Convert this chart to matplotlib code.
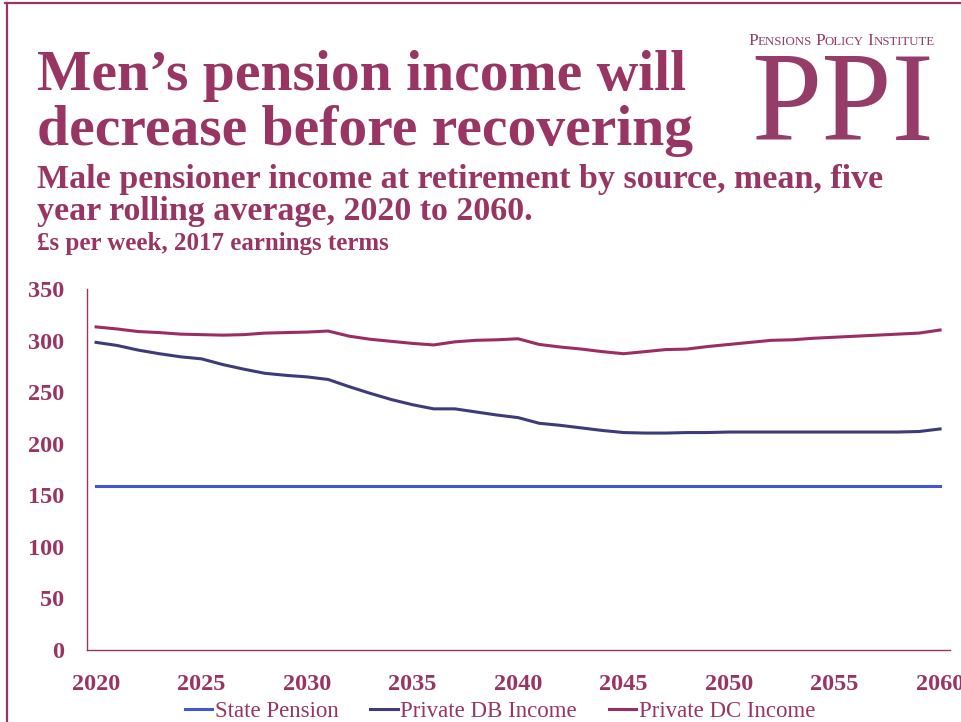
import matplotlib
matplotlib.use("Agg")
import matplotlib.pyplot as plt
from matplotlib.lines import Line2D

# Data (GBP per week, 2017 earnings terms)
years = list(range(2020, 2061))

state_pension = [159] * 41

private_db = [298.5, 295.5, 291, 287.5, 284.5, 282.5, 277, 272.5, 268.5, 266.5,
              265, 262.5, 255.5, 249, 243, 238, 234, 234, 231, 228,
              225.5, 220, 218, 215.5, 213, 211, 210.5, 210.5, 211, 211,
              211.5, 211.5, 211.5, 211.5, 211.5, 211.5, 211.5, 211.5, 211.5, 212,
              214.5]

private_dc = [313.5, 311.5, 309, 308, 306.5, 306, 305.5, 306, 307.5, 308,
              308.5, 309.5, 304.5, 301.5, 299.5, 297.5, 296, 299, 300.5, 301,
              302, 296.5, 294, 292, 289.5, 287.5, 289.5, 291.5, 292, 294.5,
              296.5, 298.5, 300.5, 301, 302.5, 303.5, 304.5, 305.5, 306.5, 307.5,
              310.5]

series_names = ["State Pension", "Private DB Income", "Private DC Income"]
xticks = list(range(2020, 2061, 5))
yticks = list(range(0, 351, 50))

# Colours
plum = "#983563"
logo = "#953D68"
c_state = "#4357D3"
c_db = "#3E3B7C"
c_dc = "#9B2D62"

W, H = 962, 722
fig = plt.figure(figsize=(W / 100, H / 100), dpi=100)
serif = ["Liberation Serif", "DejaVu Serif"]

def fx(px):
    return px / W

def fy(py):
    return 1 - py / H

# slide border
fig.add_artist(Line2D([fx(5), 1], [fy(3), fy(3)], color=plum, lw=1.6))
fig.add_artist(Line2D([fx(7), fx(7)], [fy(3), 0], color=plum, lw=1.6))

# titles
fig.text(fx(37), fy(90), "Men\u2019s pension income will", fontsize=41.5,
         fontweight="bold", color=plum, family=serif, va="baseline")
fig.text(fx(37), fy(145), "decrease before recovering", fontsize=41.5,
         fontweight="bold", color=plum, family=serif, va="baseline")
fig.text(fx(37), fy(188), "Male pensioner income at retirement by source, mean, five",
         fontsize=24.5, fontweight="bold", color=plum, family=serif, va="baseline")
fig.text(fx(37), fy(220), "year rolling average, 2020 to 2060.",
         fontsize=24.5, fontweight="bold", color=plum, family=serif, va="baseline")
fig.text(fx(37), fy(250), "\u00a3s per week, 2017 earnings terms",
         fontsize=18, fontweight="bold", color=plum, family=serif, va="baseline")

# logo: small caps line built from pieces
renderer = fig.canvas.get_renderer()
chunks = [("P", 12.5), ("ENSIONS", 9.3), (" ", 9.3), ("P", 12.5), ("OLICY", 9.3),
          (" ", 9.3), ("I", 12.5), ("NSTITUTE", 9.3)]
cur = 748
for txt, size in chunks:
    t = fig.text(fx(cur), fy(45), txt, fontsize=size, color=logo,
                 family=serif, va="baseline")
    if txt == " ":
        cur += size * 0.25 * 100 / 72
    else:
        cur += t.get_window_extent(renderer).width
fig.text(fx(843), fy(140), "PPI", fontsize=91, color=logo,
         family=serif, ha="center", va="baseline")

# chart
ax = fig.add_axes([fx(87), fy(650), fx(950) - fx(87), fy(289.3) - fy(650)])
ax.plot(years, state_pension, color=c_state, lw=2.2, label=series_names[0])
ax.plot(years, private_db, color=c_db, lw=2.2, label=series_names[1])
ax.plot(years, private_dc, color=c_dc, lw=2.2, label=series_names[2])

ax.set_xlim(2019.57, 2060.47)
ax.set_ylim(0, 350)
ax.set_xticks(xticks)
ax.set_yticks(yticks)
for s in ["top", "right"]:
    ax.spines[s].set_visible(False)
for s in ["left", "bottom"]:
    ax.spines[s].set_color(plum)
    ax.spines[s].set_linewidth(1.0)
ax.tick_params(length=0, colors=plum)
ax.tick_params(axis="y", pad=16.5)
ax.tick_params(axis="x", pad=17)
for lab in ax.get_xticklabels() + ax.get_yticklabels():
    lab.set_fontfamily(serif)
    lab.set_fontweight("bold")
    lab.set_fontsize(17.5)
    lab.set_color(plum)

leg = fig.legend(loc="center", bbox_to_anchor=(fx(500), fy(711)), ncol=3,
                 frameon=False, prop={"family": serif, "size": 16.5},
                 handlelength=1.2, handletextpad=0.1, columnspacing=1.4)
for t in leg.get_texts():
    t.set_color(plum)

fig.savefig("out.png", dpi=100)
